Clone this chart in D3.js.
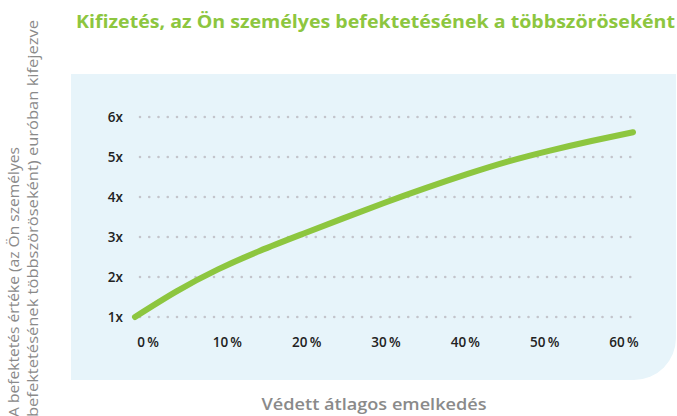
<!DOCTYPE html>
<html><head><meta charset="utf-8">
<script src="https://cdn.jsdelivr.net/npm/d3@7"></script>
<style>body{margin:0;background:#fff}svg{display:block}</style>
</head><body>
<svg id="c" width="677" height="416"></svg>
<script>
const title = "Kifizetés, az Ön személyes befektetésének a többszöröseként";
const yTitleLines = ["A befektetés értéke (az Ön személyes", "befektetésének többszöröseként) euróban kifejezve"];
const xTitle = "Védett átlagos emelkedés";
const rates = [0,5,10,15,20,25,30,35,40,45,50,55,60];
const multiples = [1.0,1.64,2.19,2.65,3.06,3.46,3.85,4.22,4.57,4.89,5.16,5.40,5.62];
const yTicks = [1,2,3,4,5,6];
const yTickLabels = ["1x","2x","3x","4x","5x","6x"];
const xTicks = [0,10,20,30,40,50,60];
const xTickLabels = ["0\u2009%","10\u2009%","20\u2009%","30\u2009%","40\u2009%","50\u2009%","60\u2009%"];

const svg = d3.select("#c");
const font = "'Open Sans', 'Noto Sans', sans-serif";

// panel with rounded bottom-right corner
const px0=71, py0=74, px1=676, py1=380, r=42;
svg.append("path")
  .attr("d", `M${px0},${py0}H${px1}V${py1-r}A${r},${r} 0 0 1 ${px1-r},${py1}H${px0}Z`)
  .attr("fill","#e7f4fa");

const x = d3.scaleLinear().domain([0,60]).range([135,633]);
const xLab = d3.scalePoint().domain(xTicks).range([148,624]);
const y = d3.scaleLinear().domain([1,6]).range([317,117]);

// dotted grid
svg.append("g").selectAll("line").data(yTicks).join("line")
  .attr("x1",140).attr("x2",633)
  .attr("y1",d=>y(d)).attr("y2",d=>y(d))
  .attr("stroke","#c3c4cb").attr("stroke-width",2.6)
  .attr("stroke-linecap","round").attr("stroke-dasharray","0 9.25");

// y tick labels
svg.append("g").selectAll("text").data(yTicks).join("text")
  .attr("x",123).attr("y",d=>y(d)+5)
  .attr("text-anchor","end").attr("font-family",font).attr("font-size",13.5).attr("font-weight",600)
  .attr("fill","#222").text((d,i)=>yTickLabels[i]);

// x tick labels
svg.append("g").selectAll("text").data(xTicks).join("text")
  .attr("x",d=>xLab(d)).attr("y",347)
  .attr("text-anchor","middle").attr("font-family",font).attr("font-size",13.5).attr("font-weight",600)
  .attr("fill","#222").text((d,i)=>xTickLabels[i]);

// line
const data = rates.map((d,i)=>({r:d,m:multiples[i]}));
svg.append("path").datum(data)
  .attr("d", d3.line().x(d=>x(d.r)).y(d=>y(d.m)).curve(d3.curveNatural))
  .attr("fill","none").attr("stroke","#8dc63f").attr("stroke-width",6)
  .attr("stroke-linecap","round").attr("stroke-linejoin","round");

// title
svg.append("text").attr("x",76).attr("y",28)
  .attr("font-family",font).attr("font-weight",700).attr("font-size",17.5)
  .attr("fill","#8dc63f").attr("textLength",599).attr("lengthAdjust","spacingAndGlyphs")
  .text(title);

// y axis title
const yt = svg.append("g").attr("font-family",font).attr("font-size",14).attr("fill","#8a8a8a");
const ytLens = [270, 397];
const ytX = [19, 38];
yTitleLines.forEach((t,i)=>{
  yt.append("text").attr("transform",`translate(${ytX[i]},417) rotate(-90)`)
    .attr("x",0).attr("y",0).attr("textLength",ytLens[i]).attr("lengthAdjust","spacingAndGlyphs")
    .text(t);
});

// x axis title
svg.append("text").attr("x",374).attr("y",410).attr("text-anchor","middle")
  .attr("font-family",font).attr("font-weight",600).attr("font-size",16)
  .attr("fill","#8a8a8a").attr("textLength",225).attr("lengthAdjust","spacingAndGlyphs")
  .text(xTitle);
</script>
</body></html>
